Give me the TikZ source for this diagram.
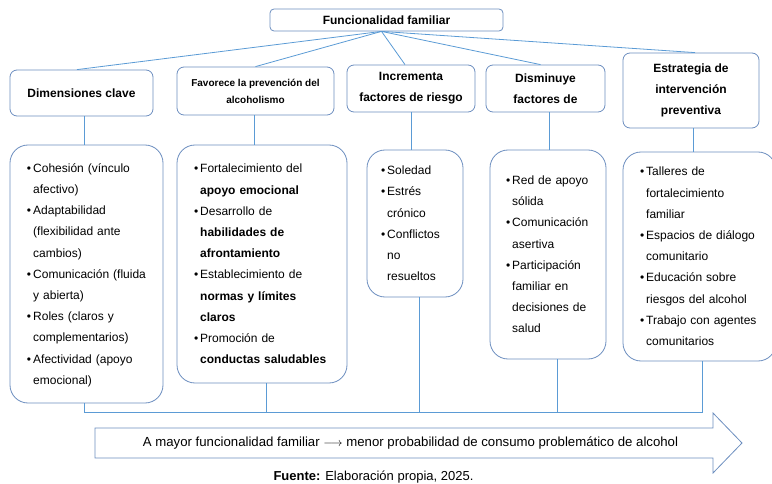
\documentclass[tikz,border=0pt]{standalone}
\usepackage{fontspec}
\setmainfont{Liberation Sans}
\definecolor{boxblue}{RGB}{108,142,191}
\definecolor{lineblue}{RGB}{91,155,213}
\newcommand{\fs}[2]{\fontsize{#1}{#2}\selectfont}
\newcommand{\bul}{\textbullet}
\begin{document}
\begin{tikzpicture}[x=1pt,y=-1pt,
    hdr/.style={draw=boxblue,line width=0.8pt,rounded corners=7pt,align=center,inner sep=0pt,font=\bfseries\fs{12}{21}},
    cbox/.style={draw=boxblue,line width=0.8pt,rounded corners=18pt,inner xsep=17pt,inner ysep=0pt,align=left,font=\fs{12}{21.2}},
    link/.style={draw=lineblue,line width=0.8pt}]
  \useasboundingbox (0,0) rectangle (772,484);
  \node[hdr,rounded corners=4pt,minimum width=233pt,minimum height=22pt] (top) at (386.5,20) {Funcionalidad familiar};
  \node[hdr,minimum width=143pt,minimum height=46pt] (h1) at (81.5,93) {Dimensiones clave};
  \node[hdr,minimum width=157pt,minimum height=48pt,font=\bfseries\fs{10}{17}] (h2) at (255.5,91) {Favorece la prevención del\\alcoholismo};
  \node[hdr,minimum width=128pt,minimum height=47pt] (h3) at (411,88.5) {Incrementa\\factores de riesgo};
  \node[hdr,minimum width=119pt,minimum height=47pt] (h4) at (545.5,88.5) {Disminuye\\factores de};
  \node[hdr,minimum width=136pt,minimum height=75pt] (h5) at (691,90.5) {Estrategia de\\intervención\\preventiva};
  \node[cbox,text width=119pt,minimum height=258pt] (c1) at (86.5,274) {\begin{tabular}{@{}c@{\hspace{2pt}}l@{}}
    \bul & Cohesión (vínculo\\ & afectivo)\\
    \bul & Adaptabilidad\\ & (flexibilidad ante\\ & cambios)\\
    \bul & Comunicación (fluida\\ & y abierta)\\
    \bul & Roles (claros y\\ & complementarios)\\
    \bul & Afectividad (apoyo\\ & emocional)
  \end{tabular}};
  \node[cbox,text width=136pt,minimum height=238pt] (c2) at (262,264) {\begin{tabular}{@{}c@{\hspace{2pt}}l@{}}
    \bul & Fortalecimiento del\\ & \textbf{apoyo emocional}\\
    \bul & Desarrollo de\\ & \textbf{habilidades de}\\ & \textbf{afrontamiento}\\
    \bul & Establecimiento de\\ & \textbf{normas y límites}\\ & \textbf{claros}\\
    \bul & Promoción de\\ & \textbf{conductas saludables}
  \end{tabular}};
  \node[cbox,inner xsep=14pt,text width=68pt,minimum height=147pt] (c3) at (415,223.5) {\begin{tabular}{@{}c@{\hspace{2pt}}l@{}}
    \bul & Soledad\\
    \bul & Estrés\\ & crónico\\
    \bul & Conflictos\\ & no\\ & resueltos
  \end{tabular}};
  \node[cbox,inner xsep=16pt,text width=84pt,minimum height=209pt] (c4) at (548,254.5) {\begin{tabular}{@{}c@{\hspace{2pt}}l@{}}
    \bul & Red de apoyo\\ & sólida\\
    \bul & Comunicación\\ & asertiva\\
    \bul & Participación\\ & familiar en\\ & decisiones de\\ & salud
  \end{tabular}};
  \node[cbox,text width=119pt,minimum height=209pt] (c5) at (699.5,256.5) {\begin{tabular}{@{}c@{\hspace{2pt}}l@{}}
    \bul & Talleres de\\ & fortalecimiento\\ & familiar\\
    \bul & Espacios de diálogo\\ & comunitario\\
    \bul & Educación sobre\\ & riesgos del alcohol\\
    \bul & Trabajo con agentes\\ & comunitarios
  \end{tabular}};
  \coordinate (hub) at ([xshift=-5pt]top.south);
  \coordinate (bus) at (0,412);
  \draw[link] (hub) -- ([xshift=-4.5pt]h1.north);
  \draw[link] (hub) -- (h2.north);
  \draw[link] (hub) -- ([xshift=-6pt]h3.north);
  \draw[link] (hub) -- ([xshift=-5pt]h4.north);
  \draw[link] (hub) -- ([xshift=4pt]h5.north);
  \draw[link] ([xshift=2.5pt]h1.south) -- ([xshift=2.5pt]h1.south |- c1.north);
  \draw[link] ([xshift=-1.5pt]h2.south) -- ([xshift=-1.5pt]h2.south |- c2.north);
  \draw[link] (h3.south) -- (h3.south |- c3.north);
  \draw[link] ([xshift=3.5pt]h4.south) -- ([xshift=3.5pt]h4.south |- c4.north);
  \draw[link] ([xshift=2pt]h5.south) -- ([xshift=2pt]h5.south |- c5.north);
  \draw[link] ([xshift=-2.5pt]c1.south) |- ([xshift=2.5pt]c5.south |- bus) -- ([xshift=2.5pt]c5.south);
  \draw[link] ([xshift=4pt]c2.south) -- ([xshift=4pt]c2.south |- bus);
  \draw[link] ([xshift=4pt]c3.south) -- ([xshift=4pt]c3.south |- bus);
  \draw[link] ([xshift=9pt]c4.south) -- ([xshift=9pt]c4.south |- bus);
  \draw[draw=boxblue,line width=0.8pt] (95,428) -- (713,428) -- (713,413) -- (742,443) -- (713,473) -- (713,458) -- (95,458) -- cycle;
  \node[font=\fs{13.2}{15}] (res) at (410.5,443) {A mayor funcionalidad familiar $\longrightarrow$ menor probabilidad de consumo problemático de alcohol};
  \node[font=\fs{13}{15}] (src) at (373.5,477) {\textbf{Fuente:} Elaboración propia, 2025.};
\end{tikzpicture}
\end{document}
